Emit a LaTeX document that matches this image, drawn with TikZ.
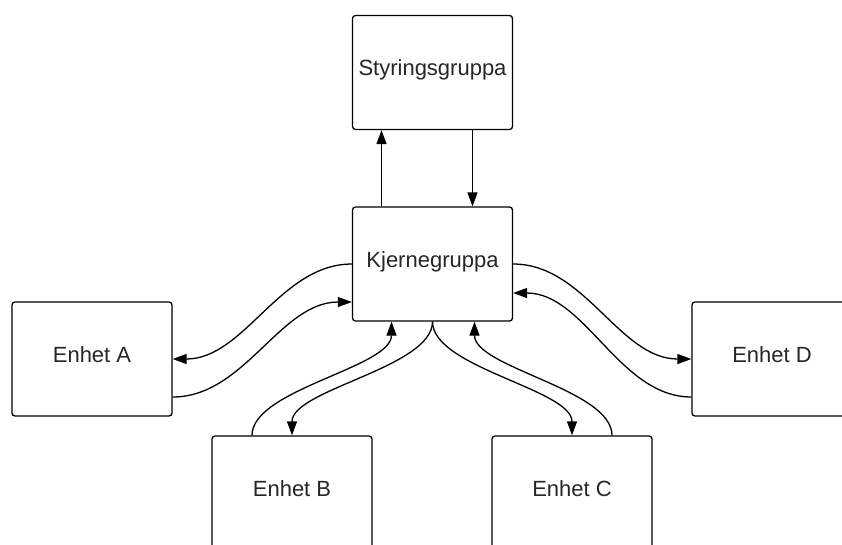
\documentclass[tikz,border=0pt]{standalone}
\usepackage{fontspec}
\setmainfont{Liberation Sans}
\usetikzlibrary{arrows.meta}
\definecolor{textgray}{HTML}{262626}
\begin{document}
\begin{tikzpicture}[x=1pt,y=-1pt,
  box/.style={draw, line width=1.3pt, rounded corners=3pt, minimum width=160pt,
    minimum height=114pt, inner sep=0pt, text height=10pt, text depth=4pt,
    font=\fontsize{22}{26}\selectfont, text=textgray},
  conn/.style={line width=1.3pt},
  tip/.style={-{Triangle[length=14pt,width=10pt]}}]
\useasboundingbox (0,0) rectangle (842,544);
\node[box] (S) at (432.5,72.5) {Styringsgruppa};
\node[box] (K) at (432.5,264) {Kjernegruppa};
\node[box] (A) at (92,359) {Enhet A};
\node[box] (D) at (772,359) {Enhet D};
\node[box] (B) at (292,493) {Enhet B};
\node[box] (C) at (572,493) {Enhet C};
% Kjerne <-> Styring
\draw[conn,tip] ([xshift=-51pt]K.north) -- ([xshift=-51pt]S.south);
\draw[conn,tip] ([xshift=40pt]S.south) -- ([xshift=40pt]K.north);
% A
\draw[conn,tip] (K.west) .. controls +(-72,0) and +(72,0) .. (A.east);
\draw[conn,tip] ([yshift=-38pt]A.east) .. controls +(72,0) and +(-72,0) .. ([yshift=-38pt]K.west);
% D
\draw[conn,tip] (K.east) .. controls +(72,0) and +(-72,0) .. (D.west);
\draw[conn,tip] ([yshift=-38pt]D.west) .. controls +(-72,0) and +(72,0) .. ([yshift=-29pt]K.east);
% B
\draw[conn,tip] (K.south) .. controls +(0,46) and +(0,-46) .. (B.north);
\draw[conn,tip] ([xshift=-40pt]B.north) .. controls +(0,-46) and +(0,46) .. ([xshift=-41pt]K.south);
% C
\draw[conn,tip] (K.south) .. controls +(0,46) and +(0,-46) .. (C.north);
\draw[conn,tip] ([xshift=40pt]C.north) .. controls +(0,-46) and +(0,46) .. ([xshift=42pt]K.south);
\end{tikzpicture}
\end{document}
